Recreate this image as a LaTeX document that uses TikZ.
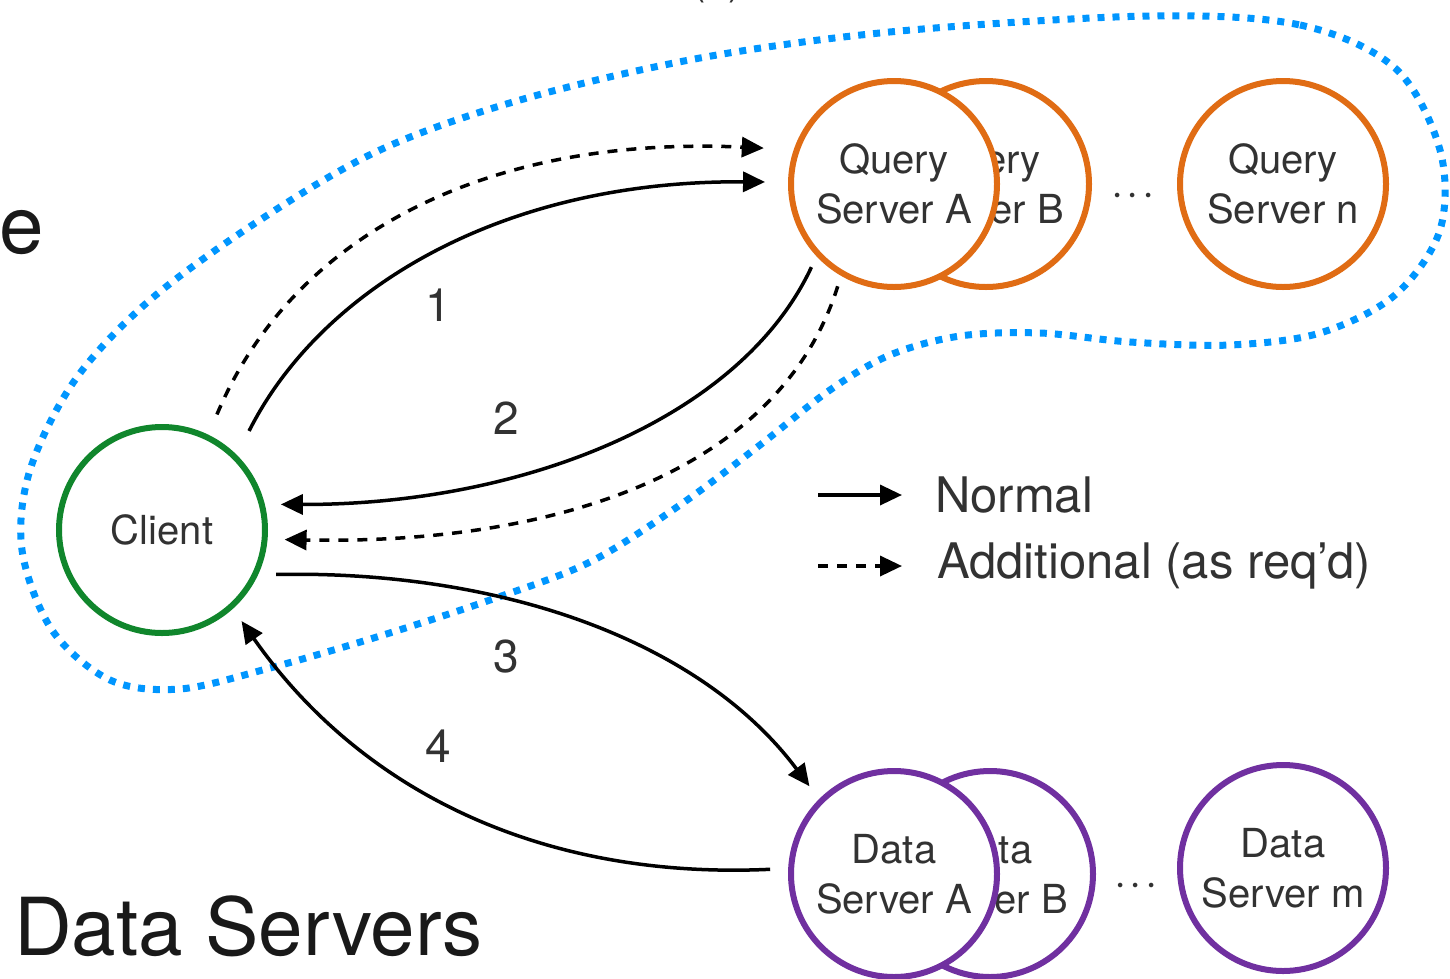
\documentclass[tikz,border=0pt]{standalone}
\usepackage{fontspec}
\setmainfont{TeX Gyre Heros}
\usetikzlibrary{arrows.meta}
\definecolor{qorange}{RGB}{224,108,20}
\definecolor{dpurple}{RGB}{112,48,160}
\definecolor{cgreen}{RGB}{16,134,44}
\definecolor{loopblue}{RGB}{0,150,255}
\definecolor{txt}{RGB}{50,50,50}
\tikzset{
  srv/.style={circle, draw, line width=6pt, fill=white, minimum size=206pt,
    inner sep=0pt, align=center, text=txt,
    font=\fontsize{40}{50}\selectfont},
  qsrv/.style={srv, draw=qorange},
  dsrv/.style={srv, draw=dpurple},
  csrv/.style={srv, draw=cgreen},
  arr/.style={line width=3.5pt, -{Triangle[length=22pt,width=20pt]}},
  darr/.style={arr, dash pattern=on 10pt off 9pt},
  numlbl/.style={text=txt, font=\fontsize{46}{46}\selectfont},
  legtxt/.style={text=txt, font=\fontsize{49}{49}\selectfont, anchor=west, inner sep=0pt},
  bigtxt/.style={text=black!90, font=\fontsize{80}{80}\selectfont, inner sep=0pt},
  dots/.style={text=txt, font=\fontsize{44}{44}\selectfont, inner sep=0pt}
}
\newcommand{\srvdots}{·\hspace{3pt}·\hspace{3pt}·}
\begin{document}
\begin{tikzpicture}[x=1pt, y=-1pt]
\clip (0,0) rectangle (1450,978);
\fill[white] (0,0) rectangle (1450,978);

% headings partly outside the page
\node[bigtxt, anchor=base east] (head) at (44,253) {re};
\node[text=txt, font=\fontsize{40}{40}\selectfont, anchor=base, inner sep=0pt] (sub) at (717,-6) {(a)};
\node[bigtxt, anchor=base west] (dtitle) at (14,955) {Data Servers};

% query-side grouping
\draw[loopblue, line width=7pt, dash pattern=on 7pt off 8pt]
  plot[smooth cycle, tension=0.55] coordinates {
    (1150,16) (1300,25) (1395,68) (1440,150) (1440,230) (1395,295)
    (1320,333) (1230,345) (1130,342) (1040,333) (960,336) (890,355)
    (830,390) (760,445) (680,505) (590,562) (490,600) (380,636)
    (270,668) (180,689) (110,680) (52,630) (22,550) (30,470)
    (75,380) (150,300) (260,220) (380,150) (520,100) (700,58) (900,31)};

% query servers
\node[qsrv] (qb) at (986,184) {Query\\Server B};
\node[qsrv] (qa) at (894,184) {Query\\Server A};
\node[qsrv] (qn) at (1283,184) {Query\\Server n};
\node[dots] (qdots) at (1133,200) {\srvdots};

% data servers
\node[dsrv] (db) at (990,874) {Data\\Server B};
\node[dsrv] (da) at (894,874) {Data\\Server A};
\node[dsrv] (dm) at (1283,868) {Data\\Server m};
\node[dots] (ddots) at (1136,890) {\srvdots};

% client
\node[csrv] (cl) at (162,530) {Client};

% requests and replies
\draw[darr, shorten <=22pt, shorten >=30pt] (cl.64) .. controls (290,240) and (480,135) .. (qa.161);
\draw[arr, shorten <=27pt, shorten >=23pt] (cl.45.6) .. controls (320,290) and (500,180) .. (qa.179);
\draw[arr, shorten <=12pt, shorten >=16pt] (qa.223) .. controls (740,420) and (520,505) .. (cl.14);
\draw[darr, shorten <=11pt, shorten >=17pt] (qa.240) .. controls (780,470) and (560,545) .. (cl.-5);
\draw[arr, shorten <=18pt, shorten >=16pt] (cl.-25) .. controls (500,570) and (700,640) .. (da.135);
\draw[arr, shorten <=18pt, shorten >=15pt] (da.177) .. controls (540,880) and (360,790) .. (cl.-48);

\node[numlbl] (n1) at (438,305) {1};
\node[numlbl] (n2) at (506,418) {2};
\node[numlbl] (n3) at (506,657) {3};
\node[numlbl] (n4) at (438,746) {4};

% legend
\coordinate (ln1) at (818,495);
\coordinate (ln2) at (902,495);
\coordinate (la1) at (818,566);
\coordinate (la2) at (902,566);
\draw[arr] (ln1) -- (ln2);
\draw[darr] (la1) -- (la2);
\node[legtxt] (lnorm) at (935,495) {Normal};
\node[legtxt] (ladd) at (937,566) {Additional (as req'd)};
\end{tikzpicture}
\end{document}
